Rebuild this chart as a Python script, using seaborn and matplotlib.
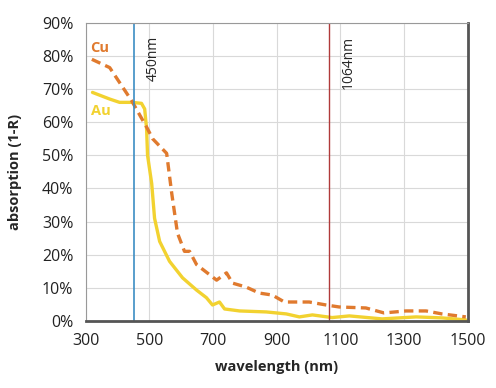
import numpy as np
import pandas as pd
import matplotlib
matplotlib.use("Agg")
import matplotlib.pyplot as plt
from matplotlib.ticker import PercentFormatter
import seaborn as sns

# === Data ===
cu_nm = [319, 375, 444, 494, 510, 554, 570, 588, 610, 626, 648, 711, 742, 761, 804,
         845, 886, 924, 1002, 1055, 1096, 1180, 1237, 1306, 1369, 1419, 1494]
cu_abs = [79, 76.5, 66.5, 58, 55, 50.6, 38.5, 26.5, 21, 21, 17, 12.3, 14.5, 11.4, 10.2,
          8.4, 7.8, 5.7, 5.7, 4.8, 4.2, 3.9, 2.4, 3.0, 3.0, 2.1, 1.2]

au_nm = [321, 375, 406, 444, 475, 485, 491, 494, 507, 516, 532, 563, 604, 648, 679,
         698, 720, 736, 783, 867, 930, 971, 1012, 1074, 1128, 1231, 1338, 1419, 1494]
au_abs = [69, 67, 66, 66, 65.7, 64, 58, 50, 41.5, 31, 24, 18, 13, 9.3, 7,
          4.8, 5.7, 3.6, 3.0, 2.7, 2.1, 1.2, 1.8, 1.0, 1.5, 0.6, 1.2, 0.9, 0.3]

laser_nm = [450, 1064]
laser_labels = ["450nm", "1064nm"]

cu_df = pd.DataFrame({"wavelength": cu_nm, "absorption": cu_abs})
au_df = pd.DataFrame({"wavelength": au_nm, "absorption": au_abs})

sns.set_style("white")
plt.rcParams["font.family"] = ["Open Sans", "DejaVu Sans"]

fig = plt.figure(figsize=(4.96, 3.88), dpi=100)
ax = fig.add_axes([0.173, 0.173, 0.770, 0.768])

cu_color = "#E07A2E"
au_color = "#F2D230"

sns.lineplot(data=au_df, x="wavelength", y="absorption", ax=ax, color=au_color, lw=2.4)
sns.lineplot(data=cu_df, x="wavelength", y="absorption", ax=ax, color=cu_color, lw=2.4,
             dashes=False, linestyle=(0, (2.8, 1.6)))

ax.axvline(laser_nm[0], color="#3C8DC4", lw=1.2)
ax.axvline(laser_nm[1], color="#B03A3A", lw=1.0)
ax.text(laser_nm[0] + 62, 86, laser_labels[0], rotation=90, va="top", ha="center", fontsize=10)
ax.text(laser_nm[1] + 60, 86, laser_labels[1], rotation=90, va="top", ha="center", fontsize=10)

ax.text(315, 82.5, "Cu", color=cu_color, fontsize=10.5, fontweight="bold", va="center")
ax.text(315, 63.5, "Au", color=au_color, fontsize=10.5, fontweight="bold", va="center")

ax.set_xlim(300, 1500)
ax.set_ylim(0, 90)
ax.set_xticks(np.arange(300, 1501, 200))
ax.set_yticks(np.arange(0, 91, 10))
ax.yaxis.set_major_formatter(PercentFormatter(decimals=0))
ax.grid(True, color="#D9D9D9", lw=0.8)
ax.set_axisbelow(True)

ax.tick_params(axis="both", labelsize=11.5, color="#888888", colors="#222222")
ax.tick_params(axis="x", direction="out", length=3, pad=6)
ax.tick_params(axis="y", direction="out", length=5, pad=4)

for side in ["top", "left"]:
    ax.spines[side].set_color("#999999")
    ax.spines[side].set_linewidth(0.8)
ax.spines["bottom"].set_color("#555555")
ax.spines["bottom"].set_linewidth(2.0)
ax.spines["right"].set_color("#555555")
ax.spines["right"].set_linewidth(2.0)

ax.set_xlabel("wavelength (nm)", fontsize=10.5, fontweight="bold", labelpad=8)
ax.set_ylabel("absorption (1-R)", fontsize=10.5, fontweight="bold", labelpad=14)

fig.savefig("out.png", dpi=100)
